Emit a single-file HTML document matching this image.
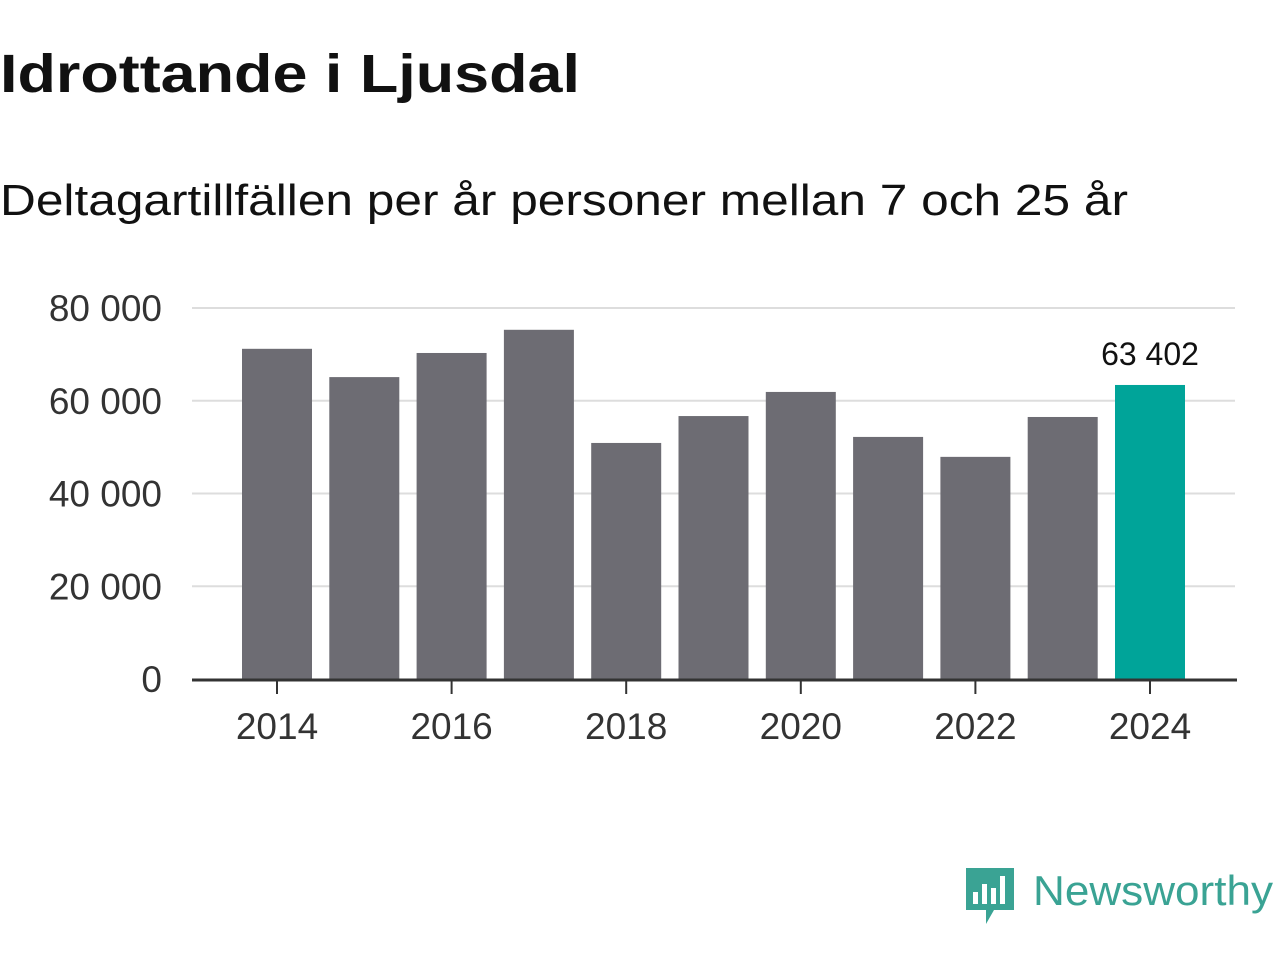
<!DOCTYPE html>
<html><head><meta charset="utf-8"><style>
body{margin:0;width:1280px;height:960px;background:#fff;font-family:"Liberation Sans","DejaVu Sans",sans-serif;overflow:hidden}
</style></head><body>
<svg width="1280" height="960">
<text x="0" y="92" font-size="54" font-weight="bold" fill="#111" textLength="580" lengthAdjust="spacingAndGlyphs">Idrottande i Ljusdal</text>
<text x="0" y="215" font-size="44" fill="#111" textLength="1128" lengthAdjust="spacingAndGlyphs">Deltagartillfällen per år personer mellan 7 och 25 år</text>
<g id="grid"></g><g id="bars"></g><g id="axis"></g>
<g>
<path d="M966 868 h48 v42 h-20 l-8 14 v-14 h-20 z" fill="#3aa394"/>
<rect x="973" y="892" width="5" height="12" fill="#fff"/><rect x="982" y="884" width="5" height="20" fill="#fff"/><rect x="991" y="888" width="5" height="16" fill="#fff"/><rect x="1000" y="876" width="5" height="28" fill="#fff"/>
<text x="1033" y="905" font-size="42" fill="#3aa394" textLength="240" lengthAdjust="spacingAndGlyphs">Newsworthy</text>
</g>
</svg>
<script>
const years=[2014,2015,2016,2017,2018,2019,2020,2021,2022,2023,2024];
const values=[71200,65100,70300,75300,50900,56700,61900,52200,47900,56500,63402];
const yTicks=[0,20000,40000,60000,80000];
const yTickLabels=["0","20 000","40 000","60 000","80 000"];
const xTicks=[2014,2016,2018,2020,2022,2024];
const ns="http://www.w3.org/2000/svg";
const y=v=>679-v*(371/80000);
const x=yr=>277+(yr-2014)*87.3;
function mk(t,a,p){const e=document.createElementNS(ns,t);for(const k in a)e.setAttribute(k,a[k]);p.appendChild(e);return e;}
const G=document.getElementById('grid'),B=document.getElementById('bars'),A=document.getElementById('axis');
yTicks.forEach((v,i)=>{
 if(v>0){const l=mk('line',{x1:192,x2:1235,y1:y(v),y2:y(v),stroke:'#ddd','stroke-width':2},G);
 
 }
 const t=mk('text',{x:162,y:y(v)+13,'font-size':37,'text-anchor':'end',fill:'#333'},A);t.textContent=yTickLabels[i];
 
 
});
years.forEach((yr,i)=>{
 const last=i===years.length-1;
 const r=mk('rect',{x:x(yr)-35,y:y(values[i]),width:70,height:679-y(values[i]),fill:last?'#00a499':'#6d6c73'},B);
 
 
 if(last){const t=mk('text',{x:x(yr),y:y(values[i])-20,'font-size':32,'text-anchor':'middle',fill:'#111'},B);t.textContent=values[i].toLocaleString('sv-SE').replace(/\s/g,' ');
 
 }
});
const base=mk('line',{x1:192,x2:1237,y1:680,y2:680,stroke:'#333','stroke-width':3},A);


xTicks.forEach(yr=>{
 const tk=mk('line',{x1:x(yr),x2:x(yr),y1:680,y2:694,stroke:'#333','stroke-width':2},A);
 
 
 const t=mk('text',{x:x(yr),y:739,'font-size':37,'text-anchor':'middle',fill:'#333'},A);t.textContent=yr;
 
 
});
</script>
</body></html>
